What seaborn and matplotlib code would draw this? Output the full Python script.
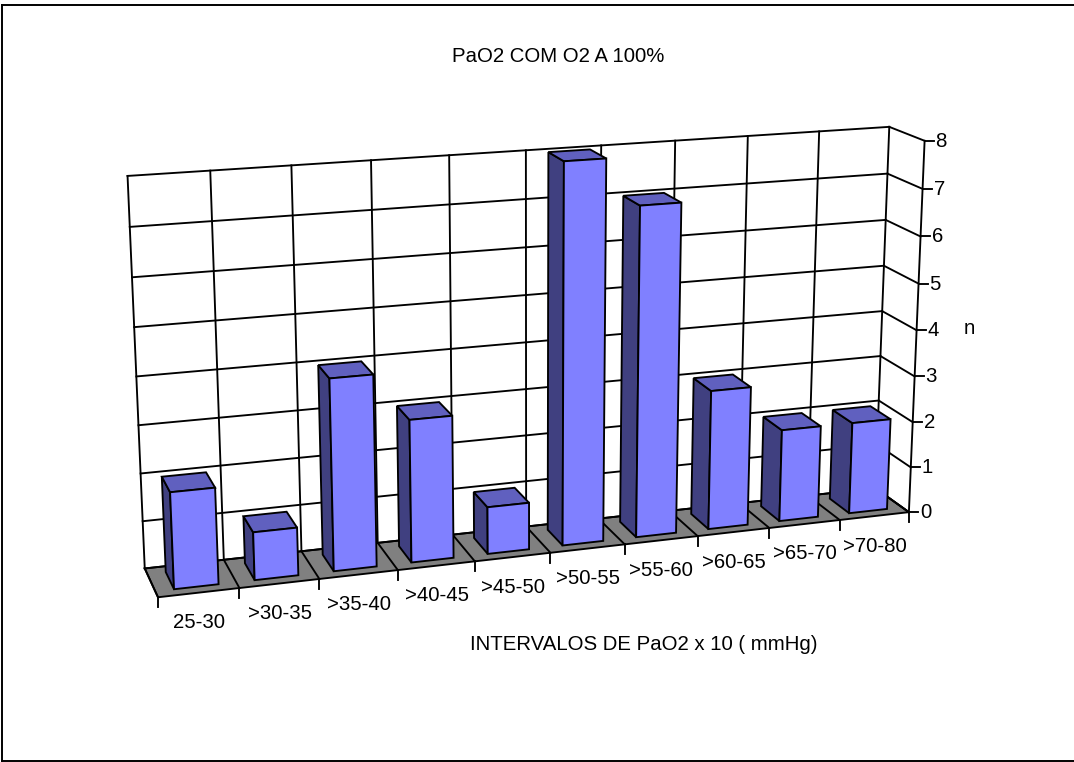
import numpy as np
import matplotlib
matplotlib.use("Agg")
import matplotlib.pyplot as plt
from matplotlib.lines import Line2D
from matplotlib.patches import Polygon
from matplotlib.transforms import IdentityTransform, Transform
import seaborn as sns

WIDTH, HEIGHT = 1074, 762

categories = ["25-30", ">30-35", ">35-40", ">40-45", ">45-50",
              ">50-55", ">55-60", ">60-65", ">65-70", ">70-80"]
counts = [2, 1, 4, 3, 1, 8, 7, 3, 2, 2]
y_ticks = [0, 1, 2, 3, 4, 5, 6, 7, 8]

title = "PaO2 COM O2 A 100%"
x_title = "INTERVALOS DE PaO2 x 10 ( mmHg)"
y_title = "n"

FRONT_COLOR = "#8080FF"
TOP_COLOR = "#6060BF"
SIDE_COLOR = "#404080"
FLOOR_COLOR = "#808080"
LINE_W = 1.35
TEXT_SIZE = 14.7

BAR_WIDTH = 0.55
BAR_SHIFT = 0.505
BAR_NEAR = 0.80
BAR_FAR = 0.20

# Camera fit: (slot, value, depth) -> pixel, depth 0 at the back wall, 1 at the front.
world_pts = np.array([
    (0, 0, 0), (0, 8, 0), (10, 0, 0), (10, 8, 0), (10, 0, 1), (10, 8, 1), (0, 0, 1),
    (0, 1, 0), (0, 2, 0), (10, 7, 0), (10, 6, 0), (10, 7, 1), (10, 6, 1),
    (10, 2, 1), (10, 1, 1), (1, 0, 1), (2, 0, 1), (8, 0, 1), (9, 0, 1),
    (1, 8, 0), (2, 8, 0), (8, 8, 0), (9, 8, 0),
], dtype=float)
pixel_pts = np.array([
    (144, 568), (127, 176), (875, 488), (889, 127), (909, 512), (925, 141), (158, 597),
    (143, 521), (141, 474), (888, 175), (886, 219), (922, 188), (920, 237),
    (913, 421), (911, 467), (240, 588), (319, 579), (770, 529), (839, 521),
    (210, 171), (292, 165), (748, 136), (819, 131),
], dtype=float)


def fit_camera(world, pixels):
    rows, rhs = [], []
    for (X, Y, Z), (u, v) in zip(world, pixels):
        rows.append([X, Y, Z, 1, 0, 0, 0, 0, -u * X, -u * Y, -u * Z])
        rhs.append(u)
        rows.append([0, 0, 0, 0, X, Y, Z, 1, -v * X, -v * Y, -v * Z])
        rhs.append(v)
    sol = np.linalg.lstsq(np.array(rows), np.array(rhs), rcond=None)[0]
    return np.append(sol, 1.0).reshape(3, 4)


CAMERA = fit_camera(world_pts, pixel_pts)


def project(slot, value, depth):
    """Map chart space to display coordinates (y up)."""
    slot, value, depth = np.broadcast_arrays(slot, value, depth)
    h = np.stack([slot, value, depth, np.ones_like(slot, dtype=float)], axis=-1) @ CAMERA.T
    return np.stack([h[..., 0] / h[..., 2], HEIGHT - h[..., 1] / h[..., 2]], axis=-1)


class DepthPlane(Transform):
    """Projects (category position, value) data onto a plane of constant depth."""
    input_dims = output_dims = 2
    is_separable = False

    def __init__(self, plane_depth):
        super().__init__()
        self.plane_depth = plane_depth

    def transform_non_affine(self, values):
        values = np.asarray(values, dtype=float)
        return project(values[:, 0] + BAR_SHIFT, values[:, 1], self.plane_depth)


sns.set_style("white")
plt.rcParams["font.family"] = ["Liberation Sans", "DejaVu Sans"]
plt.rcParams["text.color"] = "black"

fig = plt.figure(figsize=(WIDTH / 100, HEIGHT / 100), dpi=100, facecolor="white")
ax = fig.add_axes([0, 0, 1, 1])
sns.barplot(x=categories, y=counts, color=FRONT_COLOR, saturation=1, width=BAR_WIDTH,
            edgecolor="black", linewidth=LINE_W, ax=ax)
ax.axis("off")
bars = list(ax.patches)

screen = IdentityTransform()


def segment(a, b, zorder=1, lw=LINE_W):
    pts = np.array([a, b])
    ax.add_line(Line2D(pts[:, 0], pts[:, 1], color="black", lw=lw, transform=screen,
                       zorder=zorder, clip_on=False, solid_capstyle="projecting"))


def face(corners, color, zorder):
    ax.add_patch(Polygon(np.array(corners), closed=True, facecolor=color, edgecolor="black",
                         lw=LINE_W, transform=screen, zorder=zorder, clip_on=False,
                         joinstyle="miter"))


n = len(categories)
top = y_ticks[-1]

# Floor
face([project(0, 0, 0), project(n, 0, 0), project(n, 0, 1), project(0, 0, 1)], FLOOR_COLOR, 1)

# Gridlines on the back wall, the right wall and the floor
for level in y_ticks:
    segment(project(0, level, 0), project(n, level, 0))
    segment(project(n, level, 0), project(n, level, 1))
for slot in range(n + 1):
    segment(project(slot, 0, 0), project(slot, top, 0))
    segment(project(slot, 0, 0), project(slot, 0, 1), zorder=2)
segment(project(n, 0, 1), project(n, top, 1))

# Tick marks and axis labels
for slot in range(n + 1):
    base = project(slot, 0, 1)
    segment(base, base - np.array([0, 10]), zorder=2)
for i, name in enumerate(categories):
    px, py = project(i + 0.5, 0, 1)
    ax.text(px, py - 30, name, transform=screen, ha="center", va="center",
            fontsize=TEXT_SIZE, clip_on=False)
for level in y_ticks:
    base = project(n, level, 1)
    segment(base, base + np.array([9, 0]), zorder=2)
    ax.text(base[0] + 11, base[1] - 0.5, str(level), transform=screen, ha="left", va="center",
            fontsize=TEXT_SIZE, clip_on=False)

# Bars, drawn right to left so the nearer ones cover their neighbours
front_plane = DepthPlane(BAR_NEAR)
for i, bar in enumerate(bars):
    left = bar.get_x() + BAR_SHIFT
    right = left + bar.get_width()
    value = bar.get_height()
    z = 20 + (n - i) * 3
    face([project(left, 0, BAR_FAR), project(left, 0, BAR_NEAR),
          project(left, value, BAR_NEAR), project(left, value, BAR_FAR)], SIDE_COLOR, z)
    face([project(left, value, BAR_FAR), project(right, value, BAR_FAR),
          project(right, value, BAR_NEAR), project(left, value, BAR_NEAR)], TOP_COLOR, z + 1)
    bar.set_transform(front_plane)
    bar.set_clip_on(False)
    bar.set_zorder(z + 2)
    bar.set_joinstyle("miter")

# Titles
ax.text(558, HEIGHT - 57, title, transform=screen, ha="center", va="center",
        fontsize=TEXT_SIZE, clip_on=False)
ax.text(644, HEIGHT - 645, x_title, transform=screen, ha="center", va="center",
        fontsize=TEXT_SIZE, clip_on=False)
ax.text(969, HEIGHT - 329, y_title, transform=screen, ha="center", va="center",
        fontsize=TEXT_SIZE, clip_on=False)

# Chart frame: left, top and bottom edges
for a, b in [((2, HEIGHT - 5), (2, HEIGHT - 761)),
             ((2, HEIGHT - 5), (WIDTH, HEIGHT - 5)),
             ((2, HEIGHT - 761), (WIDTH, HEIGHT - 761))]:
    segment(np.array(a), np.array(b), zorder=50, lw=1.4)

fig.savefig("out.png", dpi=100, facecolor="white")
